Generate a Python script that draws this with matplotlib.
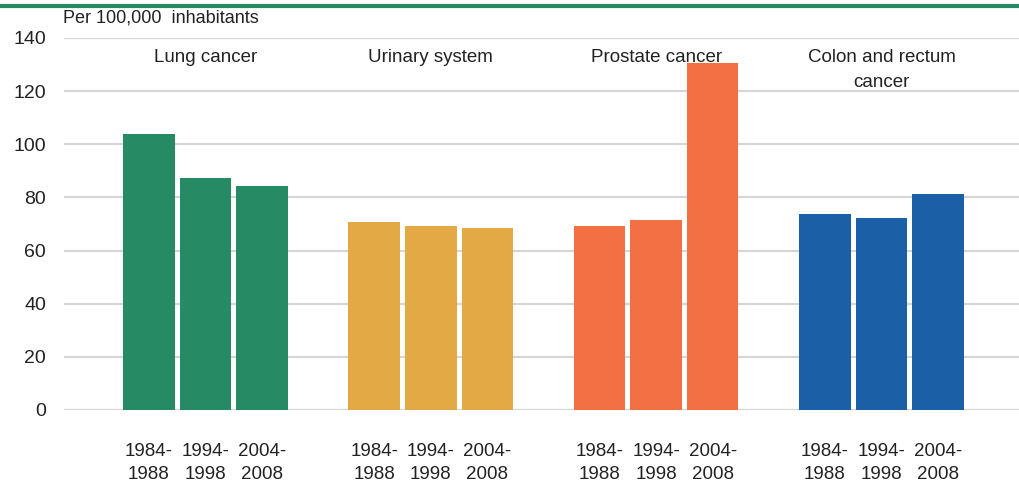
import matplotlib.pyplot as plt

# Cancer incidence per 100,000 inhabitants, three periods per site
SITES   = ["Lung cancer", "Urinary system", "Prostate cancer", "Colon and rectum\ncancer"]
PERIODS = ["1984-\n1988", "1994-\n1998", "2004-\n2008"]
LUNG     = [103.8, 87.2, 84.2]
URINARY  = [70.6, 69.1, 68.3]
PROSTATE = [69.1, 71.3, 130.6]
COLON    = [73.6, 72.1, 81.1]
COLORS   = ["#268B65", "#E3A945", "#F37045", "#1A60A6"]
YTICKS   = [0, 20, 40, 60, 80, 100, 120, 140]

plt.rcParams["font.family"] = ["Liberation Sans", "DejaVu Sans"]
TXT = "#222222"

fig = plt.figure(figsize=(10.19, 4.82), dpi=100)
ax = fig.add_axes([0.0628, 0.1494, 0.9372, 0.772])

series = [LUNG, URINARY, PROSTATE, COLON]
xs, labels = [], []
for g, (vals, col) in enumerate(zip(series, COLORS)):
    pos = [g * 3.98 + i for i in range(len(vals))]
    ax.bar(pos, vals, width=0.91, color=col, zorder=3)
    xs += pos
    labels += PERIODS
    ax.text(g * 3.98 + 1, 136, SITES[g], ha="center", va="top",
            fontsize=13.5, color=TXT, linespacing=1.65)

ax.set_xlim(-1.5, 15.37)
ax.set_ylim(0, 140)
ax.set_yticks(YTICKS)
ax.set_xticks(xs)
ax.set_xticklabels(labels, fontsize=13.5, color=TXT, linespacing=1.4)
ax.tick_params(axis="x", length=0, pad=24)
ax.tick_params(axis="y", length=0, pad=13, labelsize=14, labelcolor=TXT)
ax.grid(axis="y", color="#d6d6d6", linewidth=1.6, zorder=0)
for s in ax.spines.values():
    s.set_visible(False)

fig.text(0.062, 0.962, "Per 100,000  inhabitants", fontsize=13,
         color=TXT, ha="left", va="center")
fig.add_artist(plt.Line2D([0, 1], [0.987, 0.987], color="#268B65",
                          linewidth=3, transform=fig.transFigure))

fig.savefig("out.png", dpi=100)
